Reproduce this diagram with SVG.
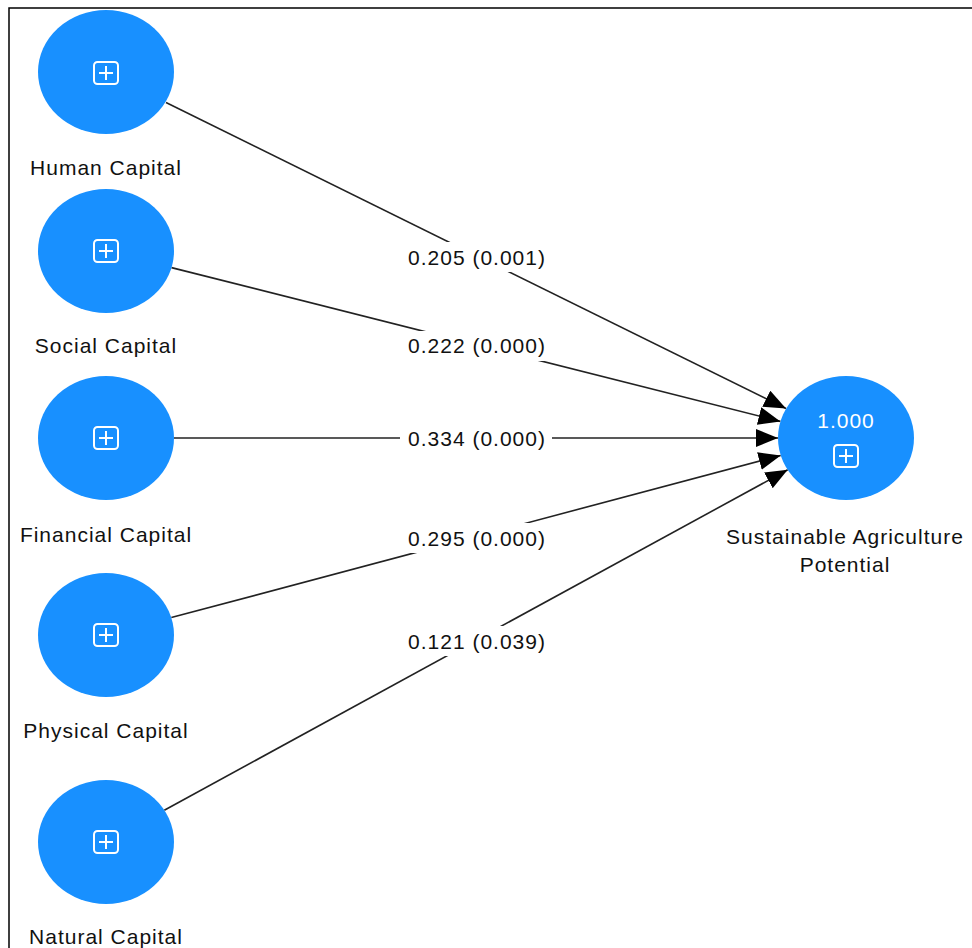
<svg xmlns="http://www.w3.org/2000/svg" width="972" height="948" viewBox="0 0 972 948">
<style>
.node{fill:#1890ff}
.lbl{font-family:"Liberation Sans",Arial,sans-serif;font-size:21px;letter-spacing:1px;fill:#111;text-anchor:middle}
.elbl{font-family:"Liberation Sans",Arial,sans-serif;font-size:21px;letter-spacing:1px;fill:#111;text-anchor:middle}
.val{font-family:"Liberation Sans",Arial,sans-serif;font-size:21px;letter-spacing:1px;fill:#fff;text-anchor:middle}
.icon{fill:none;stroke:#fff;stroke-width:2}
.edge{stroke:#222;stroke-width:1.6;fill:none}
.bg{fill:#fff}
</style>
<defs>
<marker id="arr" markerUnits="userSpaceOnUse" markerWidth="24" markerHeight="20" refX="22" refY="9" orient="auto">
<path d="M0,0 L22,9 L0,18 Z" fill="#000"/>
</marker>
<g id="plus">
<rect class="icon" x="-12" y="-11" width="24" height="22" rx="3.5"/>
<path class="icon" d="M-7,0 H7 M0,-7 V7"/>
</g>
</defs>
<rect width="972" height="948" fill="#fff"/>
<path d="M9,948 V8 H972" fill="none" stroke="#000" stroke-width="1.5"/>
<g id="connectors">
<line class="edge" x1="166" y1="102.5" x2="786" y2="408.5" marker-end="url(#arr)"/>
<line class="edge" x1="171.5" y1="267.6" x2="780.4" y2="421.4" marker-end="url(#arr)"/>
<line class="edge" x1="174" y1="438" x2="778" y2="438" marker-end="url(#arr)"/>
<line class="edge" x1="171.3" y1="617.6" x2="780.7" y2="455.4" marker-end="url(#arr)"/>
<line class="edge" x1="164.3" y1="810.2" x2="787.7" y2="469.8" marker-end="url(#arr)"/>
<rect class="bg" x="400" y="242" width="152" height="30"/>
<text class="elbl" x="477" y="265">0.205 (0.001)</text>
<rect class="bg" x="400" y="331" width="152" height="30"/>
<text class="elbl" x="477" y="353">0.222 (0.000)</text>
<rect class="bg" x="400" y="424" width="152" height="28"/>
<text class="elbl" x="477" y="446">0.334 (0.000)</text>
<rect class="bg" x="400" y="523" width="152" height="30"/>
<text class="elbl" x="477" y="546">0.295 (0.000)</text>
<rect class="bg" x="400" y="626" width="152" height="30"/>
<text class="elbl" x="477" y="649">0.121 (0.039)</text>
</g>
<g id="human">
<ellipse class="node" cx="106" cy="72" rx="68" ry="62"/>
<use href="#plus" x="106" y="73"/>
<text class="lbl" x="106" y="175">Human Capital</text>
</g>
<g id="social">
<ellipse class="node" cx="106" cy="251" rx="68" ry="62"/>
<use href="#plus" x="106" y="251"/>
<text class="lbl" x="106" y="353">Social Capital</text>
</g>
<g id="financial">
<ellipse class="node" cx="106" cy="438" rx="68" ry="62"/>
<use href="#plus" x="106" y="438"/>
<text class="lbl" x="106" y="542">Financial Capital</text>
</g>
<g id="physical">
<ellipse class="node" cx="106" cy="635" rx="68" ry="62"/>
<use href="#plus" x="106" y="635"/>
<text class="lbl" x="106" y="738">Physical Capital</text>
</g>
<g id="natural">
<ellipse class="node" cx="106" cy="842" rx="68" ry="62"/>
<use href="#plus" x="106" y="842"/>
<text class="lbl" x="106" y="944">Natural Capital</text>
</g>
<g id="sap">
<ellipse class="node" cx="846" cy="438" rx="68" ry="62"/>
<text class="val" x="846" y="428">1.000</text>
<use href="#plus" x="846" y="456"/>
<text class="lbl" x="845" y="544">Sustainable Agriculture</text>
<text class="lbl" x="845" y="572">Potential</text>
</g>
</svg>
